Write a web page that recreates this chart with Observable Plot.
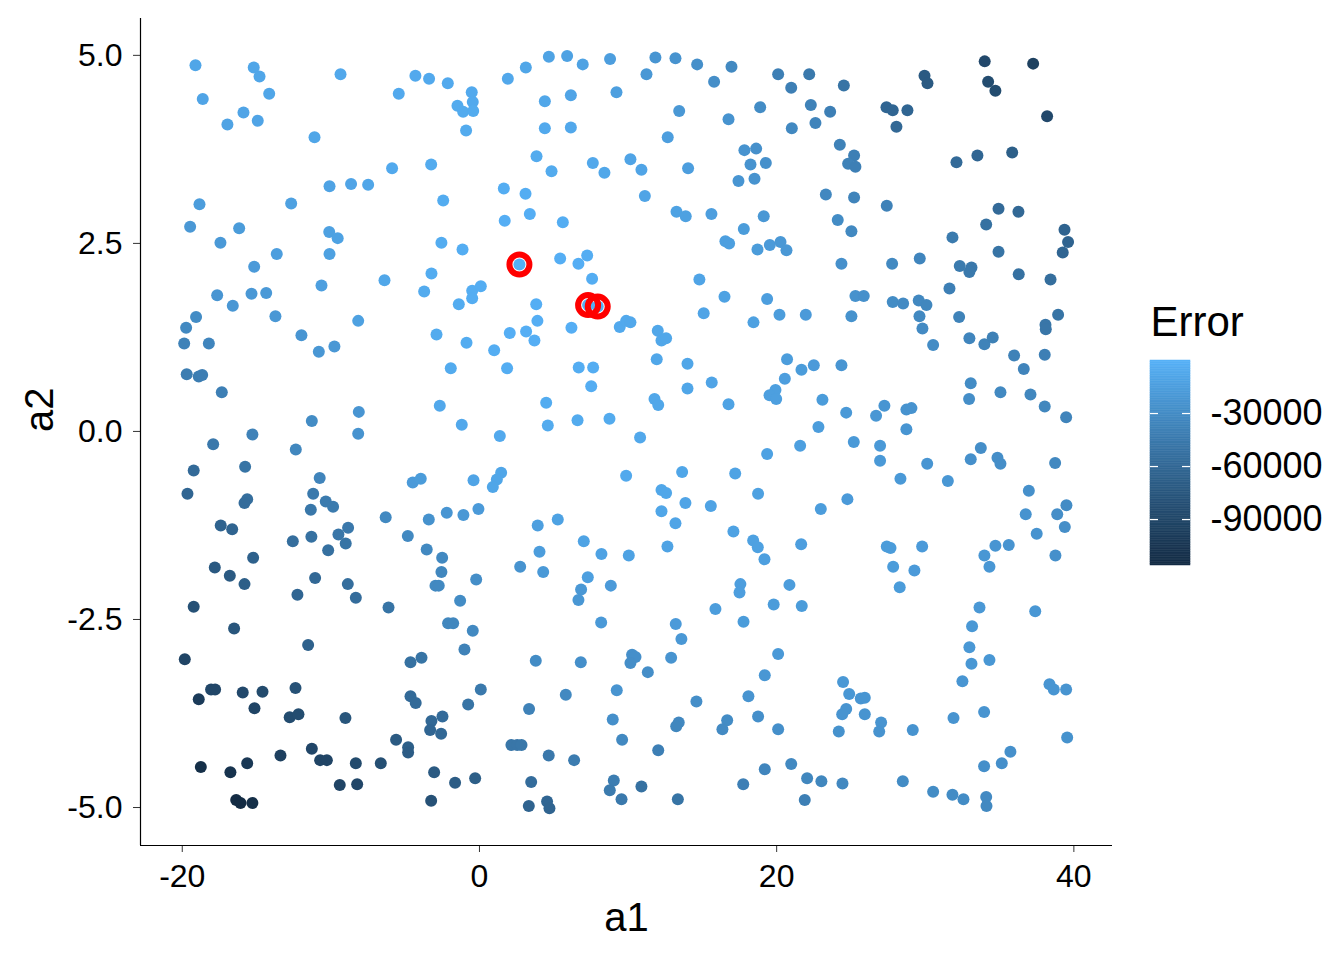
<!DOCTYPE html>
<html>
<head>
<meta charset="utf-8">
<script src="https://cdn.jsdelivr.net/npm/d3@7"></script>
<script src="https://cdn.jsdelivr.net/npm/@observablehq/plot@0.6"></script>
<style>
  html, body { margin: 0; padding: 0; background: white; }
  #wrap { position: relative; width: 1344px; height: 960px; }
  #legend { position: absolute; left: 1140px; top: 300px; }
</style>
</head>
<body>
<div id="wrap"><div id="chart"></div><div id="legend"></div></div>
<script>
// ---- data: [a1, a2, Error] ----
const pointsTopLeft = [
[-19.11,4.87,-9000],[-15.19,4.84,-9000],[-14.8,4.72,-9000],[-9.35,4.75,-7000],[-18.62,4.42,-10000],
[-14.15,4.49,-9000],[-15.88,4.24,-10000],[-14.92,4.13,-10000],[-16.96,4.08,-11000],[-11.1,3.91,-9000],
[-10.09,3.26,-11000],[-8.64,3.29,-10000],[-7.49,3.28,-9000],[-18.84,3.02,-16000],[-12.67,3.03,-13000],
[-19.47,2.72,-20000],[-16.17,2.70,-17000],[-17.43,2.51,-19000],[-10.11,2.65,-13000],[-9.54,2.57,-12000],
[-10.09,2.36,-13000],[-13.64,2.36,-15000],[-15.16,2.19,-18000],[-6.39,2.01,-8000],[-10.63,1.94,-14000],
[-17.65,1.81,-22000],[-15.34,1.83,-20000],[-14.35,1.84,-19000],[-16.6,1.67,-21000]
];
const pointsTopMid = [
[-5.43,4.49,-6000],[-4.31,4.73,-6000],[-3.39,4.69,-6000],[-2.13,4.63,-6000],[-0.52,4.51,-6000],
[-0.45,4.38,-6000],[-1.48,4.33,-5000],[-1.1,4.25,-5000],[-0.42,4.26,-5000],[-0.9,4.0,-5000],
[1.91,4.69,-7000],[3.12,4.84,-9000],[4.67,4.98,-11000],[5.9,4.99,-12000],[6.95,4.88,-12000],
[8.79,4.95,-15000],[9.22,4.51,-14000],[4.4,4.39,-8000],[6.15,4.47,-10000],[4.4,4.03,-6000],
[6.15,4.04,-7000],[-5.88,3.5,-6000],[-3.25,3.55,-5000],[3.84,3.66,-5000],[4.85,3.46,-5000],
[7.63,3.57,-7000],[8.41,3.44,-8000],[10.16,3.62,-10000],[1.64,3.23,-3000],[3.1,3.16,-3000],
[-2.44,3.07,-4000],[1.7,2.80,-2000],[3.39,2.89,-2000],[5.61,2.78,-3000],[-2.56,2.51,-4000],
[-1.14,2.42,-3000],[2.69,2.22,-1000],[5.43,2.30,-2000],[7.25,2.34,-3000],[6.66,2.23,-2000],
[7.58,2.03,-3000],[-3.23,2.10,-4000],[-3.72,1.86,-5000],[-0.49,1.87,-3000],[0.09,1.93,-3000],
[-0.49,1.77,-3000],[-1.39,1.69,-4000],[3.82,1.69,-2000],[7.31,1.68,-1000],[7.96,1.66,-1000]
];
const pointsTopRightMid = [
[11.84,4.97,-22000],[13.19,4.96,-24000],[11.24,4.75,-20000],[14.65,4.88,-27000],[16.96,4.85,-32000],
[15.79,4.65,-28000],[20.1,4.75,-40000],[22.19,4.75,-45000],[20.98,4.57,-40000],[24.52,4.6,-50000],
[13.44,4.26,-20000],[16.76,4.15,-24000],[18.89,4.31,-30000],[22.3,4.34,-38000],[23.6,4.25,-40000],
[21.02,4.03,-32000],[22.61,4.10,-36000],[12.67,3.91,-15000],[24.25,3.81,-38000],[25.21,3.67,-40000],
[24.81,3.56,-38000],[25.3,3.52,-40000],[17.83,3.74,-24000],[18.62,3.76,-26000],[18.24,3.55,-24000],
[19.27,3.57,-26000],[17.43,3.33,-22000],[18.51,3.36,-24000],[10.9,3.48,-10000],[14.04,3.50,-15000],
[11.13,3.13,-10000],[23.31,3.15,-33000],[25.21,3.11,-36000],[13.26,2.92,-12000],[13.88,2.86,-13000],
[15.61,2.89,-15000],[19.13,2.86,-20000],[24.11,2.81,-30000],[25.03,2.66,-32000],[17.79,2.69,-17000],
[16.55,2.53,-14000],[16.8,2.50,-14000],[18.71,2.42,-17000],[19.54,2.48,-18000],[20.26,2.52,-20000],
[20.66,2.41,-20000],[24.36,2.23,-26000],[14.8,2.02,-10000],[16.49,1.79,-12000],[19.36,1.76,-15000],
[25.3,1.80,-25000],[25.86,1.80,-26000],[9.44,1.39,-6000],[9.87,1.47,-6000],[10.16,1.45,-7000]
];
const pointsTopRight = [
[34.0,4.92,-88000],[37.26,4.89,-95000],[29.95,4.73,-72000],[30.15,4.63,-72000],[34.23,4.65,-85000],
[34.72,4.53,-85000],[38.2,4.19,-88000],[27.39,4.31,-62000],[27.81,4.27,-62000],[28.8,4.27,-62000],
[28.06,4.05,-60000],[32.1,3.58,-58000],[33.51,3.67,-62000],[35.85,3.71,-68000],[27.41,3.0,-38000],
[34.93,2.96,-58000],[36.27,2.92,-60000],[34.1,2.75,-52000],[31.83,2.58,-44000],[39.37,2.68,-64000],
[39.61,2.52,-64000],[39.25,2.38,-62000],[34.93,2.39,-50000],[27.77,2.23,-32000],[29.63,2.30,-35000],
[32.32,2.20,-44000],[33.11,2.18,-46000],[32.97,2.12,-45000],[36.29,2.09,-52000],[38.43,2.02,-55000],
[31.63,1.90,-40000],[27.81,1.72,-30000],[28.51,1.70,-31000],[29.56,1.74,-33000],[30.08,1.68,-34000]
];
const pointsMidRight = [
[29.61,1.53,-32000],[29.81,1.37,-31000],[30.53,1.15,-30000],[32.28,1.52,-37000],[32.97,1.24,-35000],
[33.98,1.16,-37000],[34.54,1.25,-39000],[38.94,1.55,-50000],[38.09,1.42,-48000],[38.11,1.36,-48000],
[35.98,1.01,-38000],[36.63,0.83,-36000],[38.04,1.02,-40000],[33.06,0.64,-30000],[32.95,0.43,-28000],
[35.06,0.52,-32000],[37.08,0.49,-34000],[38.04,0.33,-34000],[39.48,0.19,-36000],[27.25,0.34,-22000],
[26.69,0.21,-21000],[28.73,0.29,-24000],[29.07,0.31,-24000],[28.73,0.03,-22000],[26.96,-0.19,-19000],
[26.96,-0.39,-19000],[30.13,-0.43,-22000],[28.33,-0.63,-19000],[31.52,-0.66,-21000],[33.06,-0.37,-26000],
[33.74,-0.22,-28000],[34.86,-0.35,-28000],[35.06,-0.43,-28000],[38.74,-0.42,-33000],[36.97,-0.79,-26000],
[39.5,-0.98,-30000],[38.88,-1.10,-28000],[36.76,-1.10,-24000],[39.39,-1.27,-28000],[37.5,-1.36,-24000],
[27.41,-1.53,-17000],[27.66,-1.55,-17000],[29.79,-1.53,-18000],[27.84,-1.80,-17000],[29.27,-1.85,-18000],
[34.72,-1.52,-22000],[35.62,-1.51,-23000],[33.98,-1.65,-21000],[34.32,-1.80,-21000],[38.76,-1.65,-26000]
];
const pointsMidCenterRight = [
[15.09,1.57,-10000],[18.44,1.45,-13000],[20.19,1.55,-16000],[21.96,1.55,-18000],[25.03,1.53,-25000],
[12.0,1.34,-8000],[12.25,1.21,-8000],[12.56,1.24,-8000],[11.93,0.96,-8000],[14.0,0.90,-9000],
[14.0,0.57,-9000],[15.63,0.65,-10000],[11.78,0.43,-8000],[12.03,0.35,-8000],[16.76,0.36,-11000],
[10.81,-0.08,-7000],[20.7,0.96,-16000],[21.67,0.82,-17000],[22.5,0.88,-18000],[24.36,0.88,-22000],
[20.55,0.70,-15000],[19.92,0.55,-14000],[19.52,0.48,-14000],[19.97,0.43,-14000],[23.08,0.42,-17000],
[24.68,0.25,-19000],[22.81,0.06,-16000],[21.58,-0.19,-14000],[25.19,-0.14,-19000],[19.36,-0.30,-12000],
[9.87,-0.59,-6000],[13.64,-0.54,-9000],[17.21,-0.56,-11000],[12.25,-0.78,-8000],[12.56,-0.82,-8000],
[12.25,-1.06,-9000],[13.86,-0.95,-10000],[15.57,-0.99,-11000],[13.19,-1.22,-10000],[18.75,-0.83,-13000],
[17.09,-1.33,-12000],[18.42,-1.45,-13000],[18.73,-1.54,-13000],[19.18,-1.70,-14000],[12.65,-1.53,-11000],
[21.65,-1.50,-15000],[22.97,-1.03,-16000],[24.76,-0.90,-18000]
];
const pointsMidCenter = [
[3.9,1.47,-2000],[3.7,1.21,-2000],[3.14,1.33,-2000],[2.04,1.31,-2000],[-2.89,1.29,-5000],
[-0.87,1.18,-4000],[0.99,1.08,-3000],[-1.93,0.84,-5000],[1.86,0.84,-3000],[6.19,1.38,-2000],
[6.68,0.85,-3000],[7.65,0.85,-3000],[7.52,0.60,-3000],[-2.67,0.34,-7000],[-1.19,0.09,-7000],
[1.37,-0.06,-6000],[4.49,0.38,-4000],[4.6,0.08,-5000],[6.6,0.15,-5000],[8.75,0.17,-5000],
[-4.49,-0.68,-18000],[-3.95,-0.63,-17000],[-0.4,-0.65,-10000],[1.46,-0.55,-9000],[1.17,-0.64,-9000],
[0.9,-0.74,-9000],[-3.41,-1.17,-25000],[-2.2,-1.08,-22000],[-1.08,-1.11,-20000],[-0.07,-1.03,-18000],
[-4.82,-1.39,-32000],[-3.55,-1.57,-32000],[-2.51,-1.68,-32000],[-2.56,-1.87,-34000],[-0.22,-1.97,-28000],
[2.74,-1.80,-24000],[3.92,-1.25,-14000],[5.27,-1.17,-12000],[4.04,-1.60,-16000],[4.29,-1.87,-19000],
[7.02,-1.46,-11000],[8.21,-1.63,-12000],[10.05,-1.65,-12000],[7.29,-1.94,-14000]
];
const pointsMidLeft = [
[-13.73,1.53,-20000],[-8.16,1.47,-13000],[-19.07,1.52,-30000],[-19.74,1.38,-32000],[-19.87,1.17,-38000],
[-18.21,1.17,-35000],[-11.98,1.28,-22000],[-10.81,1.06,-21000],[-9.76,1.13,-20000],[-19.7,0.76,-42000],
[-18.89,0.73,-42000],[-18.66,0.75,-41000],[-17.34,0.52,-40000],[-8.12,0.26,-22000],[-8.16,-0.03,-24000],
[-11.28,0.14,-30000],[-15.28,-0.04,-38000],[-17.92,-0.17,-46000],[-12.36,-0.24,-34000],[-19.23,-0.52,-58000],
[-15.77,-0.47,-50000],[-10.75,-0.62,-36000],[-19.65,-0.83,-62000],[-15.63,-0.9,-55000],[-15.81,-0.95,-56000],
[-11.19,-0.83,-45000],[-10.34,-0.93,-44000],[-9.85,-1.0,-44000],[-11.35,-1.04,-47000],[-6.31,-1.14,-32000],
[-17.41,-1.25,-64000],[-16.64,-1.30,-63000],[-12.56,-1.46,-55000],[-11.31,-1.40,-52000],[-9.49,-1.37,-48000],
[-8.84,-1.28,-46000],[-9.0,-1.49,-50000],[-10.18,-1.58,-53000],[-15.23,-1.68,-66000],[-17.81,-1.81,-73000],
[-16.8,-1.92,-72000],[-11.06,-1.95,-60000]
];
const pointsBottomLeft = [
[-15.81,-2.03,-68000],[-12.25,-2.17,-62000],[-8.86,-2.03,-55000],[-8.32,-2.21,-56000],[-6.12,-2.34,-50000],
[-19.23,-2.33,-80000],[-16.51,-2.62,-76000],[-11.53,-2.84,-66000],[-19.83,-3.03,-92000],[-18.06,-3.43,-90000],
[-17.79,-3.43,-90000],[-18.89,-3.56,-100000],[-15.93,-3.47,-88000],[-14.6,-3.46,-86000],[-15.14,-3.68,-92000],
[-12.38,-3.41,-80000],[-12.77,-3.80,-85000],[-12.18,-3.76,-84000],[-9.02,-3.81,-76000],[-18.75,-4.46,-112000],
[-16.76,-4.53,-108000],[-15.63,-4.41,-103000],[-13.39,-4.31,-96000],[-11.28,-4.22,-90000],[-10.72,-4.37,-92000],
[-10.27,-4.37,-92000],[-8.32,-4.41,-86000],[-6.64,-4.41,-82000],[-9.4,-4.70,-92000],[-8.23,-4.69,-90000],
[-16.37,-4.90,-115000],[-16.08,-4.94,-116000],[-15.28,-4.94,-112000]
];
const pointsBottomMid = [
[-2.96,-2.05,-32000],[-2.74,-2.05,-32000],[-1.3,-2.25,-30000],[-2.11,-2.55,-34000],[-1.77,-2.55,-34000],
[-0.45,-2.65,-32000],[-1.01,-2.90,-38000],[-4.64,-3.07,-52000],[-3.9,-3.01,-50000],[0.09,-3.43,-45000],
[-4.64,-3.52,-58000],[-4.29,-3.61,-58000],[-0.76,-3.63,-50000],[-2.49,-3.79,-57000],[-3.23,-3.85,-60000],
[-3.32,-3.97,-62000],[-2.58,-4.02,-60000],[-5.61,-4.10,-72000],[-4.8,-4.2,-68000],[-4.8,-4.27,-70000],
[-3.05,-4.53,-72000],[-1.64,-4.67,-70000],[-0.29,-4.61,-68000],[-3.25,-4.91,-80000],[3.79,-3.05,-30000],
[6.82,-3.07,-27000],[5.81,-3.50,-32000],[3.34,-3.69,-38000],[2.15,-4.17,-48000],[2.54,-4.17,-48000],
[2.83,-4.17,-47000],[4.66,-4.31,-46000],[6.37,-4.37,-43000],[3.48,-4.66,-56000],[3.32,-4.98,-64000],
[4.55,-4.92,-62000],[4.71,-5.01,-63000],[6.84,-2.10,-20000],[6.66,-2.24,-21000],[8.84,-2.05,-18000],
[8.19,-2.54,-19000],[9.24,-3.44,-23000],[8.97,-3.83,-27000],[9.6,-4.10,-32000],[9.04,-4.64,-42000],
[8.77,-4.77,-44000],[9.56,-4.89,-45000]
];
const pointsBottomRightMid = [
[17.56,-2.03,-15000],[17.5,-2.14,-15000],[20.86,-2.04,-16000],[15.88,-2.36,-16000],[19.8,-2.30,-17000],
[21.69,-2.32,-17000],[17.77,-2.53,-17000],[13.21,-2.56,-18000],[13.59,-2.76,-20000],[10.27,-2.97,-27000],
[10.5,-3.0,-27000],[10.16,-3.08,-28000],[12.9,-3.01,-23000],[11.33,-3.20,-28000],[20.1,-2.96,-19000],
[19.2,-3.24,-21000],[18.1,-3.52,-23000],[14.6,-3.59,-28000],[13.41,-3.87,-33000],[13.24,-3.92,-34000],
[16.67,-3.84,-30000],[16.35,-3.96,-31000],[18.75,-3.79,-27000],[20.1,-3.96,-27000],[12.03,-4.24,-40000],
[10.9,-4.72,-52000],[13.35,-4.89,-50000],[17.75,-4.69,-40000],[19.2,-4.49,-35000],[20.98,-4.42,-32000],
[22.05,-4.61,-34000],[23.01,-4.65,-34000],[24.43,-4.68,-33000],[21.89,-4.90,-40000],[24.47,-3.33,-20000],
[24.88,-3.49,-21000],[25.66,-3.55,-22000],[25.93,-3.54,-22000],[24.68,-3.69,-23000],[24.41,-3.76,-23000],
[25.93,-3.76,-23000],[24.18,-3.99,-25000]
];
const pointsBottomRight = [
[28.28,-2.07,-17000],[33.65,-2.34,-20000],[37.4,-2.39,-21000],[33.15,-2.59,-20000],[32.97,-2.87,-20000],
[33.11,-3.09,-21000],[34.32,-3.04,-21000],[32.5,-3.32,-22000],[38.36,-3.36,-22000],[38.65,-3.43,-22000],
[39.48,-3.43,-23000],[27.03,-3.87,-23000],[26.9,-3.99,-24000],[29.16,-3.97,-24000],[31.9,-3.81,-23000],
[33.96,-3.73,-23000],[39.55,-4.07,-25000],[35.73,-4.26,-26000],[35.15,-4.41,-27000],[33.96,-4.45,-27000],
[28.49,-4.65,-30000],[30.53,-4.79,-30000],[31.83,-4.83,-30000],[32.57,-4.89,-30000],[34.1,-4.86,-31000],
[34.12,-4.98,-32000]
];
const bestPoints = [[2.69,2.22],[7.31,1.68],[7.96,1.66]];

const xTicks = [-20, 0, 20, 40];
const yTicks = [-5, -2.5, 0, 2.5, 5];
const legendTicks = [-30000, -60000, -90000];
const errorRange = [-116000, 0];
const xDomain = [-22.81, 42.6];
const yDomain = [-5.505, 5.49];

// ---- drawing ----
const points = [].concat(pointsTopLeft, pointsTopMid, pointsTopRightMid, pointsTopRight,
  pointsMidRight, pointsMidCenterRight, pointsMidCenter, pointsMidLeft,
  pointsBottomLeft, pointsBottomMid, pointsBottomRightMid, pointsBottomRight);

const font = "'Liberation Sans', Arial, Helvetica, sans-serif";
const colorScale = {type: "linear", domain: errorRange, range: ["#132B43", "#56B1F7"], interpolate: "lab"};

const chart = Plot.plot({
  width: 1344, height: 960,
  marginLeft: 140, marginRight: 232, marginTop: 18, marginBottom: 115,
  style: {fontFamily: font, fontSize: "32px", color: "black", background: "white"},
  x: {domain: xDomain},
  y: {domain: yDomain},
  color: colorScale,
  marks: [
    Plot.axisX({ticks: xTicks, tickFormat: d => String(d), tickSize: 7, tickPadding: 12, label: null, fontSize: 32, stroke: "#333"}),
    Plot.axisY({ticks: yTicks, tickFormat: d => d.toFixed(1), tickSize: 7, tickPadding: 11, label: null, fontSize: 32, stroke: "#333"}),
    Plot.ruleX([xDomain[0]], {stroke: "black", strokeWidth: 1.2}),
    Plot.ruleY([yDomain[0]], {stroke: "black", strokeWidth: 1.2}),
    Plot.dot(points, {x: d => d[0], y: d => d[1], fill: d => d[2], r: 6}),
    Plot.dot(bestPoints, {x: d => d[0], y: d => d[1], r: 10, stroke: "red", strokeWidth: 6, fill: "none"}),
    Plot.text(["a1"], {text: d => d, frameAnchor: "bottom", lineAnchor: "middle", dy: 73, fontSize: 40}),
    Plot.text(["a2"], {text: d => d, frameAnchor: "left", lineAnchor: "middle", dx: -100, rotate: -90, fontSize: 40})
  ]
});
document.getElementById("chart").appendChild(chart);

const nBins = 120;
const step = (errorRange[1] - errorRange[0]) / nBins;
const legendBins = d3.range(nBins).map(i => ({
  lo: errorRange[0] + i * step,
  hi: errorRange[0] + (i + 1) * step,
  mid: errorRange[0] + (i + 0.5) * step
}));

const legend = Plot.plot({
  width: 200, height: 300,
  marginLeft: 10, marginRight: 150, marginTop: 60, marginBottom: 35,
  style: {fontFamily: font, fontSize: "36px", color: "black", background: "transparent", overflow: "visible"},
  x: {domain: [0, 1], axis: null},
  y: {domain: errorRange, axis: null},
  color: colorScale,
  marks: [
    Plot.rect(legendBins, {x1: 0, x2: 1, y1: "lo", y2: "hi", fill: "mid", stroke: "mid", strokeWidth: 0.5}),
    Plot.ruleY(legendTicks, {x1: 0, x2: 0.2, stroke: "white", strokeWidth: 1.2}),
    Plot.ruleY(legendTicks, {x1: 0.8, x2: 1, stroke: "white", strokeWidth: 1.2}),
    Plot.axisY({anchor: "right", ticks: legendTicks, tickSize: 0, tickPadding: 20, tickFormat: d => String(d), label: null, fontSize: 36}),
    Plot.text(["Error"], {text: d => d, frameAnchor: "top-left", lineAnchor: "middle", dy: -38, textAnchor: "start", fontSize: 42})
  ]
});
document.getElementById("legend").appendChild(legend);
</script>
</body>
</html>
